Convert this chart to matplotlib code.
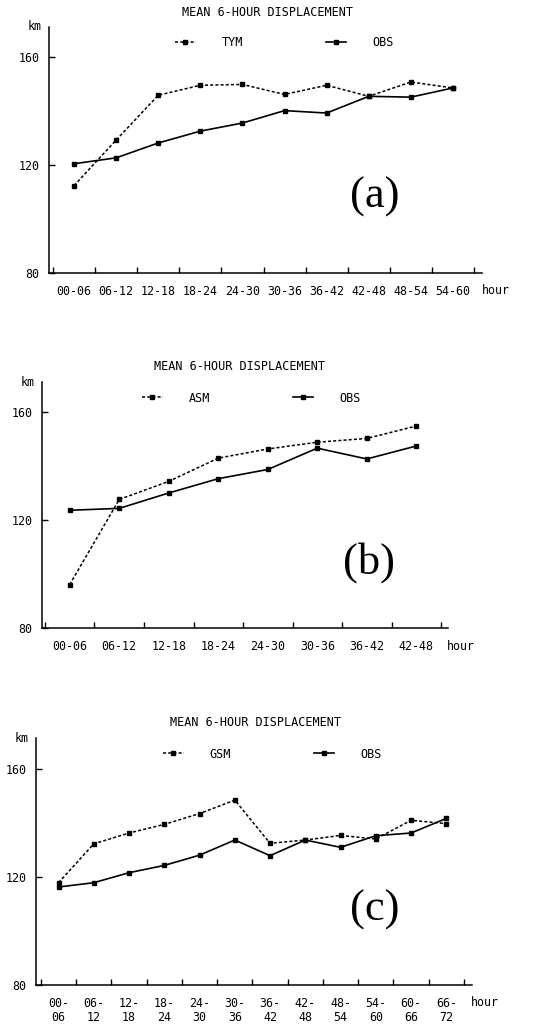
import matplotlib
matplotlib.use("Agg")
import matplotlib.pyplot as plt
from matplotlib.ticker import FixedLocator, NullFormatter

W, H = 546, 1024

# ---------------- data ----------------
cats_a = ["00-06", "06-12", "12-18", "18-24", "24-30", "30-36", "36-42", "42-48", "48-54", "54-60"]
tym = [112.4, 129.3, 145.9, 149.6, 149.9, 146.2, 149.6, 145.5, 150.8, 148.6]
obs_a = [120.5, 122.7, 128.2, 132.6, 135.6, 140.2, 139.3, 145.5, 145.2, 148.6]

cats_b = ["00-06", "06-12", "12-18", "18-24", "24-30", "30-36", "36-42", "42-48"]
asm = [96.1, 127.6, 134.3, 142.9, 146.3, 148.8, 150.2, 154.8]
obs_b = [123.6, 124.3, 130.0, 135.3, 138.7, 146.6, 142.6, 147.4]

cats_c = ["00-\n06", "06-\n12", "12-\n18", "18-\n24", "24-\n30", "30-\n36",
          "36-\n42", "42-\n48", "48-\n54", "54-\n60", "60-\n66", "66-\n72"]
gsm = [117.9, 132.3, 136.3, 139.5, 143.5, 148.5, 132.5, 133.7, 135.4, 134.1, 141.0, 139.8]
obs_c = [116.3, 117.9, 121.6, 124.3, 128.1, 133.7, 127.9, 133.7, 131.0, 135.3, 136.3, 141.7]

yticks = [80, 120, 160]
title = "MEAN 6-HOUR DISPLACEMENT"

MONO = ["DejaVu Sans Mono"]
SERIF = ["Liberation Serif", "DejaVu Serif"]
FS = 8.4

fig = plt.figure(figsize=(W / 100, H / 100), dpi=100)
fig.patch.set_facecolor("white")


def fx(x):
    return x / W


def fy(y):
    return 1 - y / H


def panel(box, cats, model, obs, model_name, xlim, ylim, title_xy, leg_xy,
          letter, letter_xy, hour_xy):
    l, t, r, b = box
    ax = fig.add_axes([fx(l), fy(b), fx(r) - fx(l), fy(t) - fy(b)])
    n = len(cats)
    xs = list(range(n))
    ax.plot(xs, model, color="black", lw=1.1, ls=(0, (2.0, 1.4)),
            marker="s", ms=3.3, label=model_name)
    ax.plot(xs, obs, color="black", lw=1.2, ls="-",
            marker="s", ms=3.3, label="OBS")
    ax.set_xlim(*xlim)
    ax.set_ylim(*ylim)
    for s in ["top", "right"]:
        ax.spines[s].set_visible(False)
    for s in ["left", "bottom"]:
        ax.spines[s].set_linewidth(1.1)
    ax.set_yticks(yticks)
    ax.set_yticklabels([str(v) for v in yticks], family=MONO, fontsize=FS)
    ax.tick_params(axis="y", direction="in", length=4, width=1.0, pad=7)
    ax.set_xticks(xs)
    ax.set_xticklabels(cats, family=MONO, fontsize=FS, linespacing=1.1)
    ax.tick_params(axis="x", which="major", length=0, pad=8.5)
    ax.xaxis.set_minor_locator(FixedLocator([i - 0.5 for i in range(n + 1)]))
    ax.xaxis.set_minor_formatter(NullFormatter())
    ax.tick_params(axis="x", which="minor", direction="in", length=4, width=1.0)
    ax.set_facecolor("none")

    fig.text(fx(title_xy[0]), fy(title_xy[1]), title, family=MONO, fontsize=8.5,
             ha="center", va="center")
    fig.text(fx(l - 21), fy(t), "km", family=MONO, fontsize=FS, ha="left", va="center")
    ax.legend(ncol=2, frameon=False, loc="center left",
              bbox_to_anchor=(fx(leg_xy[0]), fy(leg_xy[1])),
              bbox_transform=fig.transFigure, numpoints=1,
              handlelength=1.75, handletextpad=2.2, columnspacing=7.0,
              borderpad=0, borderaxespad=0,
              prop={"family": MONO, "size": 8.5})
    fig.text(fx(letter_xy[0]), fy(letter_xy[1]), letter, family=SERIF,
             fontsize=32, ha="center", va="center")
    fig.text(fx(hour_xy[0]), fy(hour_xy[1]), "hour", family=MONO, fontsize=FS,
             ha="left", va="center")
    return ax


panel((49, 27, 482, 273), cats_a, tym, obs_a, "TYM",
      (-0.595, 9.69), (80, 171.2), (267, 13), (175, 43),
      "(a)", (375, 197), (482, 291))

panel((42, 382, 448, 628), cats_b, asm, obs_b, "ASM",
      (-0.56, 7.64), (80, 171.1), (239, 366), (142, 398),
      "(b)", (369, 563), (447, 646))

panel((36, 738, 472, 985), cats_c, gsm, obs_c, "GSM",
      (-0.64, 11.73), (80, 171.5), (255, 723), (163, 754),
      "(c)", (375, 910), (471, 1002))

fig.savefig("out.png", dpi=100, facecolor="white")
